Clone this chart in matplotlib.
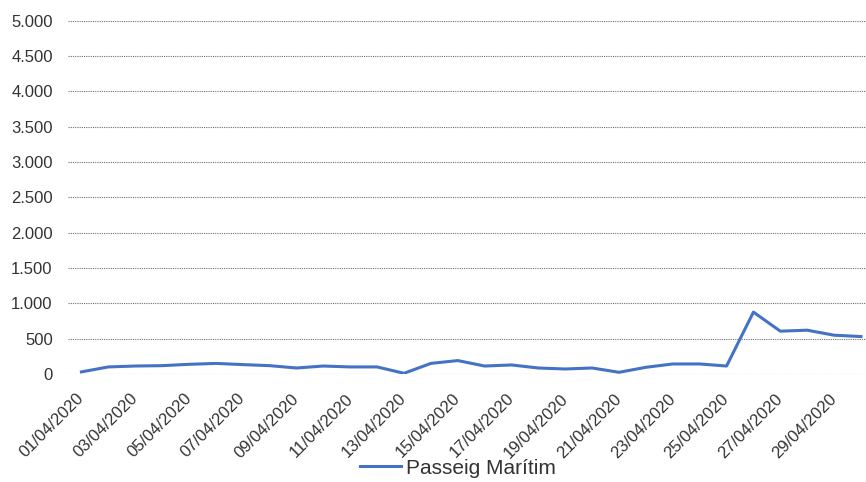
import matplotlib
matplotlib.use("Agg")
import matplotlib.pyplot as plt
from matplotlib.ticker import FuncFormatter

dates = [f"{d:02d}/04/2020" for d in range(1, 31)]
values = [30, 100, 113, 118, 137, 150, 133, 118, 85, 113,
          100, 100, 10, 150, 190, 113, 128, 85, 71, 85,
          24, 95, 142, 142, 113, 876, 606, 620, 549, 530]
series_name = "Passeig Marítim"
yticks = list(range(0, 5001, 500))

plt.rcParams['font.family'] = ['Liberation Sans', 'DejaVu Sans']
text_color = '#333333'

fig = plt.figure(figsize=(8.66, 4.82), dpi=100)
ax = fig.add_axes([68/866, 108/482, 806.4/866, 353.3/482])

x = list(range(len(dates)))
line, = ax.plot(x, values, color='#4472C4', linewidth=2.2, solid_joinstyle='round', label=series_name, zorder=3)

ax.set_xlim(-0.5, len(dates) - 0.5)
ax.set_ylim(0, 5000)
ax.set_yticks(yticks)
ax.yaxis.set_major_formatter(FuncFormatter(lambda v, p: f"{int(v):,}".replace(",", ".")))
ax.set_xticks(x[::2])
ax.set_xticklabels(dates[::2], rotation=45, ha='right', va='center', rotation_mode='anchor')

for s in ax.spines.values():
    s.set_visible(False)
ax.grid(axis='y', linestyle=(0, (1, 1)), color='#6f6f6f', linewidth=0.8, zorder=1)
ax.tick_params(axis='both', length=0, labelsize=12, colors=text_color)
ax.tick_params(axis='y', pad=11)
ax.tick_params(axis='x', pad=16)

fig.legend(handles=[line], loc='center', bbox_to_anchor=(458/866, 1 - 468/482),
           frameon=False, fontsize=15, handlelength=2.0, handletextpad=0.25,
           labelcolor=text_color)

fig.savefig("out.png", dpi=100)
